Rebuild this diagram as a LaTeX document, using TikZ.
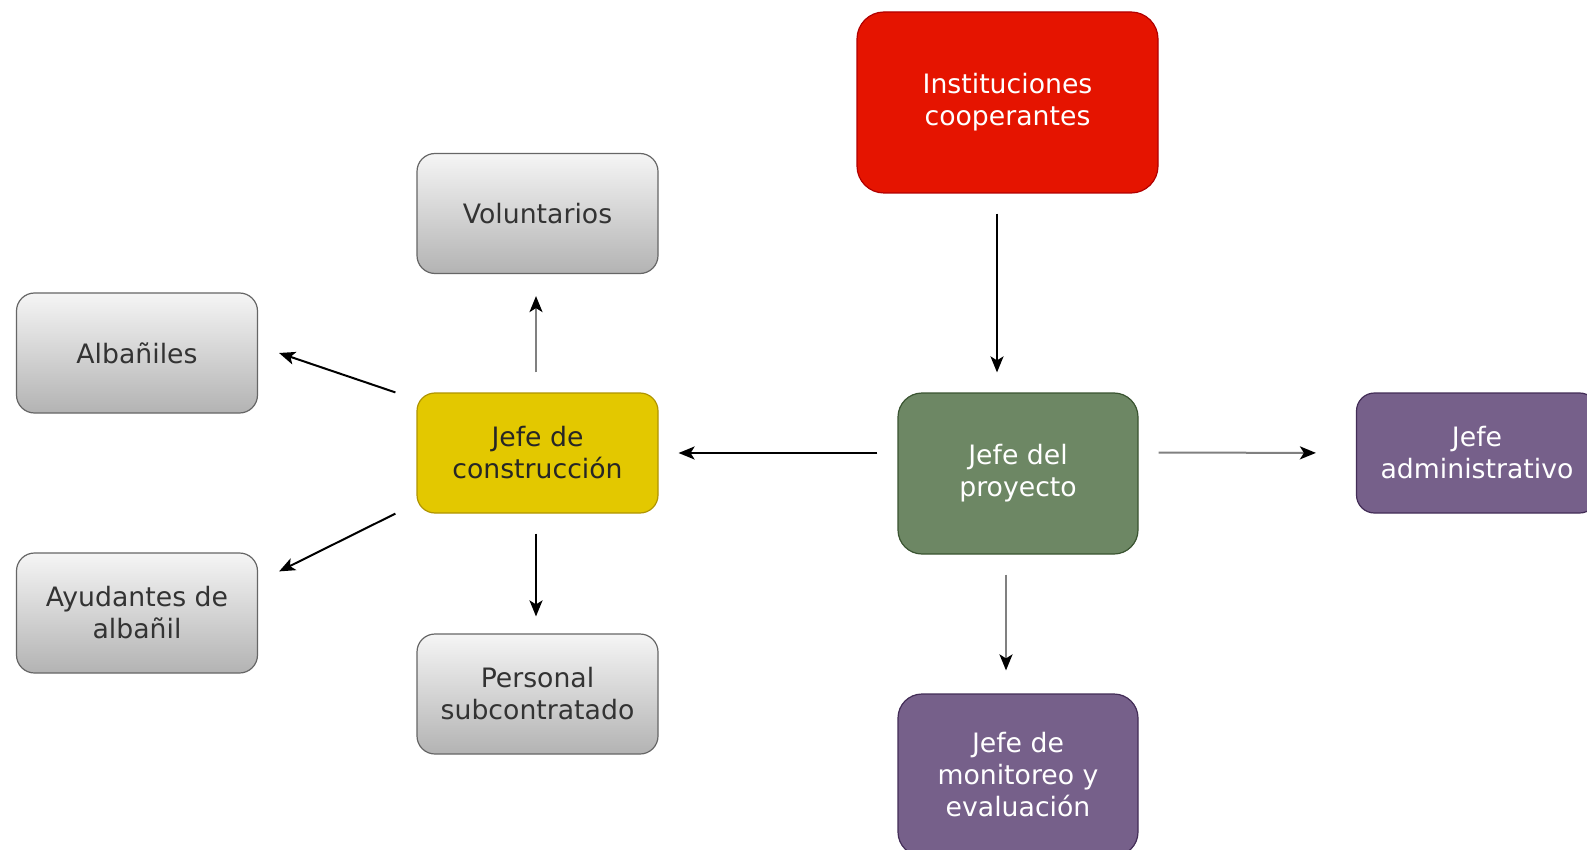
\documentclass[tikz,border=0pt]{standalone}
\usepackage{fontspec}
\setmainfont{DejaVu Sans}
\usetikzlibrary{arrows.meta}
\definecolor{instfill}{HTML}{E51400}
\definecolor{instline}{HTML}{B20000}
\definecolor{consfill}{HTML}{E3C800}
\definecolor{consline}{HTML}{B09500}
\definecolor{proyfill}{HTML}{6D8764}
\definecolor{proyline}{HTML}{3A5431}
\definecolor{jefefill}{HTML}{76608A}
\definecolor{jefeline}{HTML}{432D57}
\definecolor{greytop}{HTML}{F5F5F5}
\definecolor{greybot}{HTML}{B3B3B3}
\definecolor{greyline}{HTML}{666666}
\definecolor{greytext}{HTML}{333333}
\begin{document}
\begin{tikzpicture}[x=1pt,y=-1pt,
    box/.style={rounded corners=18pt, line width=1.2pt, align=center, inner sep=0pt,
      minimum width=241pt, minimum height=120pt, font=\fontsize{26.7}{32}\selectfont},
    greybox/.style={box, draw=greyline, top color=greytop, bottom color=greybot, text=greytext},
    arr/.style={-{Stealth[length=16pt,width=13pt,inset=4pt,color=black]}, line width=2pt,
      shorten <=20pt, shorten >=20pt}]
      \clip (0,0) rectangle (1587,850);
      \fill[white] (0,0) rectangle (1587,850);
      \draw
        (1007.5,102.5) node[box, rounded corners=27pt, minimum width=301pt, minimum height=181pt,
          fill=instfill, draw=instline, text=white] (inst){Instituciones\\cooperantes}
        (1018,473.5) node[box, rounded corners=24pt, minimum width=240pt, minimum height=161pt,
          fill=proyfill, draw=proyline, text=white] (proy){Jefe del\\proyecto}
        (1477,453) node[box, fill=jefefill, draw=jefeline, text=white] (admin){Jefe\\administrativo}
        (1018,775) node[box, rounded corners=24pt, minimum width=240pt, minimum height=162pt,
          fill=jefefill, draw=jefeline, text=white] (mon){Jefe de\\monitoreo y\\evaluación}
        (537.5,453) node[box, fill=consfill, draw=consline, text=black!85] (cons){Jefe de\\construcción}
        (537.5,213.5) node[greybox] (vol){Voluntarios}
        (537.5,694) node[greybox] (pers){Personal\\subcontratado}
        (137,353) node[greybox] (alb){Albañiles}
        (137,613) node[greybox] (ayu){Ayudantes de\\albañil};
      \begin{scope}[arr]
        \draw ([xshift=-10.5pt]inst.south) to ([xshift=-21pt]proy.north);
        \draw ([yshift=20.5pt]proy.west) to (cons.east);
        \draw[draw=gray, shorten >=40pt] ([yshift=21pt]proy.east) to (admin.west);
        \draw[draw=gray, shorten >=23pt] ([xshift=-12pt]proy.south) to ([xshift=-12pt]mon.north);
        \draw[draw=gray, shorten >=22pt] ([xshift=-1.5pt]cons.north) to ([xshift=-1.5pt]vol.south);
        \draw[shorten >=17pt] ([xshift=-1.5pt]cons.south) to ([xshift=-1.5pt]pers.north);
        \draw[shorten <=0pt, shorten >=0pt] ([xshift=-21pt]cons.north west) to ([xshift=21pt]alb.east);
        \draw[shorten <=0pt, shorten >=0pt] ([xshift=-21pt]cons.south west) to ([xshift=21pt,yshift=-19pt]ayu.north east);
      \end{scope}
    \end{tikzpicture}
\end{document}
